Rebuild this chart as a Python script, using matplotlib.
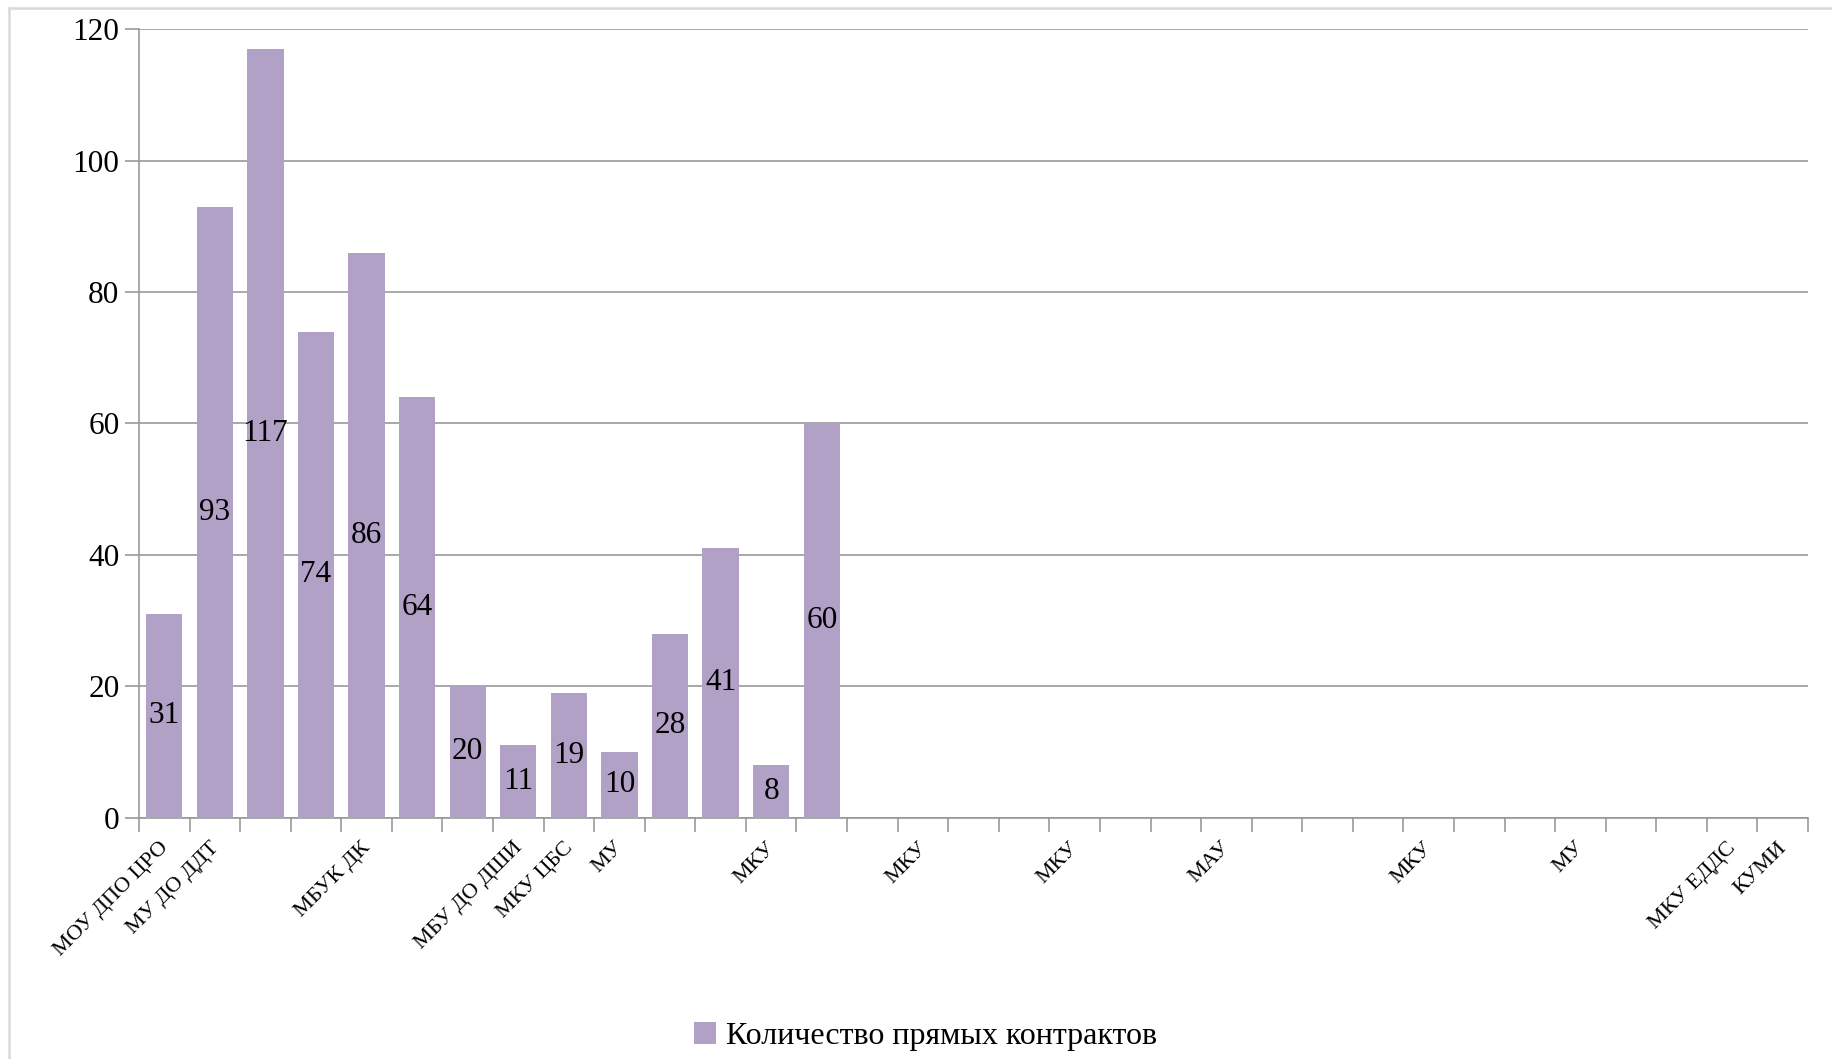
import matplotlib
matplotlib.use("Agg")
import matplotlib.pyplot as plt
from matplotlib.lines import Line2D

plt.rcParams['font.family'] = ['Liberation Serif', 'DejaVu Serif']

categories = ["МОУ ДПО ЦРО", "МУ ДО ДДТ", "", "", "МБУК ДК", "", "", "МБУ ДО ДШИ",
              "МКУ ЦБС", "МУ", "", "", "МКУ", "", "", "МКУ", "", "", "МКУ", "", "",
              "МАУ", "", "", "", "МКУ", "", "", "МУ", "", "", "МКУ ЕДДС", "КУМИ"]
values = [31, 93, 117, 74, 86, 64, 20, 11, 19, 10, 28, 41, 8, 60]
series_name = "Количество прямых контрактов"
y_ticks = [0, 20, 40, 60, 80, 100, 120]

bar_color = "#b2a1c7"
grid_color = "#999999"

fig = plt.figure(figsize=(18.33, 10.59), dpi=100)
# outer chart frame (only top and left edges visible)
fx, fy = 9 / 1833, 1 - 8 / 1059
fig.lines.append(Line2D([fx, 1.0], [fy, fy], transform=fig.transFigure,
                        color="#d9d9d9", linewidth=1.8))
fig.lines.append(Line2D([fx, fx], [0.0, fy], transform=fig.transFigure,
                        color="#d9d9d9", linewidth=1.8))

ax = fig.add_axes([0.0758, 0.2279, 0.9106, 0.7444])

x = list(range(len(values)))
bars = ax.bar(x, values, width=0.72, color=bar_color, zorder=3, label=series_name)
for xi, v in zip(x, values):
    ax.text(xi, v / 2, str(v), ha='center', va='center', fontsize=22.5, color='black', zorder=4)

ax.set_xlim(-0.5, len(categories) - 0.5)
ax.set_ylim(0, 120)
ax.set_yticks(y_ticks)
ax.set_yticklabels([str(t) for t in y_ticks], fontsize=22.5)
ax.yaxis.grid(True, color=grid_color, linewidth=1.2, zorder=0)
ax.set_axisbelow(True)

# category boundary ticks
ax.set_xticks([i - 0.5 for i in range(len(categories) + 1)])
ax.set_xticklabels([])
ax.tick_params(axis='x', length=10, color=grid_color, width=1.2)
ax.tick_params(axis='y', length=10, color=grid_color, width=1.2, pad=4)

for i, lab in enumerate(categories):
    if lab:
        ax.annotate(lab, xy=(i, 0), xycoords=('data', 'data'), xytext=(-4, -15),
                    textcoords='offset points', rotation=45, ha='right', va='top',
                    rotation_mode='anchor', fontsize=16)

for s in ['top', 'right']:
    ax.spines[s].set_visible(False)
for s in ['left', 'bottom']:
    ax.spines[s].set_color(grid_color)
    ax.spines[s].set_linewidth(1.2)

leg = fig.legend(handles=[bars], labels=[series_name], loc='center',
                 bbox_to_anchor=(0.505, 0.021), frameon=False, fontsize=23,
                 handlelength=0.7, handleheight=0.7, handletextpad=0.3)

fig.savefig("out.png", dpi=100)
